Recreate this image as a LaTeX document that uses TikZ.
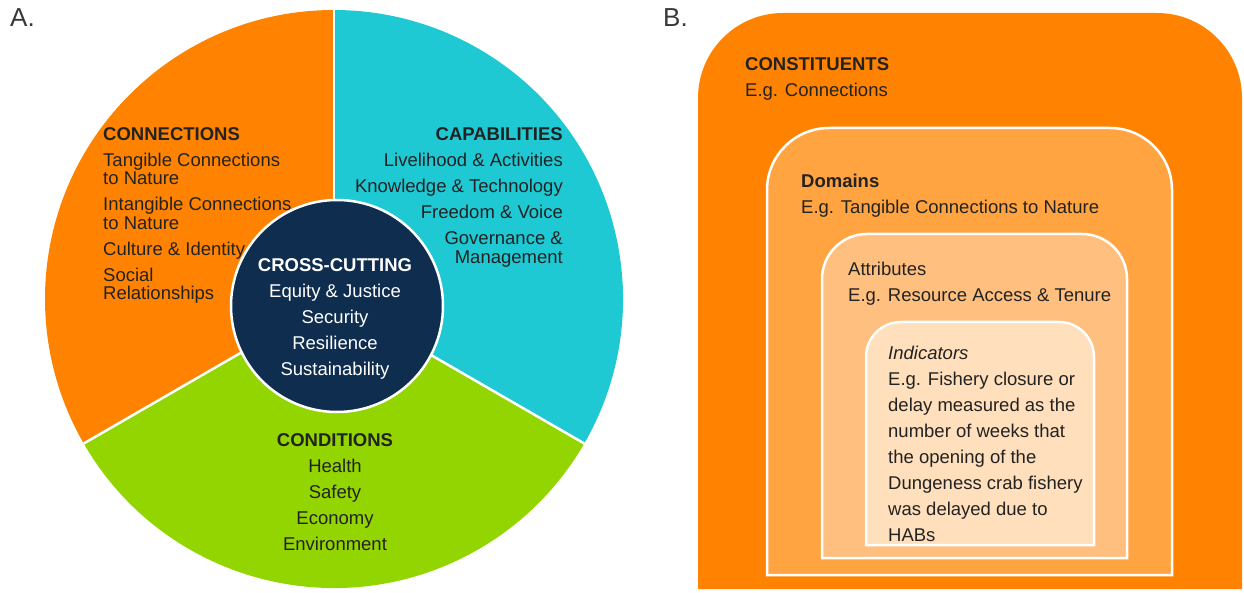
\documentclass[tikz,border=0pt]{standalone}
\usepackage{fontspec}
\setmainfont{Liberation Sans}

\definecolor{conOrange}{HTML}{FF8300}
\definecolor{capCyan}{HTML}{1FC9D4}
\definecolor{condGreen}{HTML}{93D500}
\definecolor{crossNavy}{HTML}{0F2D4F}
\definecolor{domFill}{HTML}{FFA440}
\definecolor{attFill}{HTML}{FFC07F}
\definecolor{indFill}{HTML}{FFDFBC}
\definecolor{ink}{HTML}{222222}

\tikzset{
  txt/.style={inner sep=0pt, text=ink, font=\fontsize{18.5}{26}\selectfont},
  tag/.style={inner sep=0pt, text=ink!90, font=\fontsize{26}{30}\selectfont, anchor=base west},
  sep/.style={white, line width=2.5pt},
  tier/.style={draw=white, line width=2.5pt}
}

\begin{document}
\begin{tikzpicture}[x=1pt,y=1pt]
\useasboundingbox (0,0) rectangle (1244,592);

% panel A: the wheel
\coordinate (pc) at (334,293);
\fill[conOrange] (pc) -- ++(90:289pt) arc (90:210:289pt) -- cycle;
\fill[capCyan] (pc) -- ++(-30:289pt) arc (-30:90:289pt) -- cycle;
\fill[condGreen] (pc) -- ++(210:289pt) arc (210:330:289pt) -- cycle;
\foreach \a in {90,210,330}
  \draw[sep] (pc) -- ++(\a:289pt);
\node[circle, fill=crossNavy, draw=white, line width=2.5pt, minimum size=212pt, inner sep=0pt] (hub) at (337,286) {};

\node[txt, anchor=north west, align=left] (conn) at (103,465)
  {\textbf{CONNECTIONS}\\Tangible Connections\\[-7.5pt]to Nature\\Intangible Connections\\[-7.5pt]to Nature\\Culture \& Identity\\Social\\[-7.5pt]Relationships};
\node[txt, anchor=north east, align=right] (capa) at (563,465)
  {\textbf{CAPABILITIES}\\Livelihood \& Activities\\Knowledge \& Technology\\Freedom \& Voice\\Governance \&\\[-7pt]Management};
\node[txt, anchor=north, align=center, text=white] (cross) at (335,334)
  {\textbf{CROSS-CUTTING}\\Equity \& Justice\\Security\\Resilience\\Sustainability};
\node[txt, anchor=north, align=center] (cond) at (335,159)
  {\textbf{CONDITIONS}\\Health\\Safety\\Economy\\Environment};

% panel B: nested tiers
\fill[conOrange] (698,3) [rounded corners=85pt] -- (698,579) -- (1242,579) [sharp corners] -- (1242,3) -- cycle;
\draw[tier, fill=domFill] (767,17) [rounded corners=62pt] -- (767,464) -- (1172,464) [sharp corners] -- (1172,17) -- cycle;
\draw[tier, fill=attFill] (822,34) [rounded corners=45pt] -- (822,358) -- (1127,358) [sharp corners] -- (1127,34) -- cycle;
\draw[tier, fill=indFill] (866,47) [rounded corners=35pt] -- (866,270) -- (1094,270) [sharp corners] -- (1094,47) -- cycle;

\node[txt, anchor=north west, align=left] (cnst) at (745,535)
  {\textbf{CONSTITUENTS}\\E.g. Connections};
\node[txt, anchor=north west, align=left] (dom) at (801,418)
  {\textbf{Domains}\\E.g. Tangible Connections to Nature};
\node[txt, anchor=north west, align=left] (attr) at (848,330)
  {Attributes\\E.g. Resource Access \& Tenure};
\node[txt, anchor=north west, align=left] (ind) at (888,246)
  {\textit{Indicators}\\E.g. Fishery closure or\\delay measured as the\\number of weeks that\\the opening of the\\Dungeness crab fishery\\was delayed due to\\HABs};

% panel tags
\node[tag] (tagA) at (10,565) {A.};
\node[tag] (tagB) at (663,565) {B.};
\end{tikzpicture}
\end{document}
